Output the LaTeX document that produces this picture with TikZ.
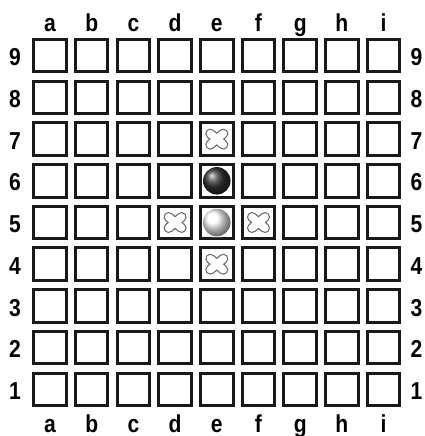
\documentclass[tikz,border=0pt]{standalone}
\usepackage{fontspec}
\setmainfont{Liberation Sans}
\newfontfamily\lblfont{Liberation Sans}[UprightFont=*-Bold]
\usetikzlibrary{calc}
\begin{document}
\begin{tikzpicture}[x=1pt,y=-1pt,
  cell/.style={draw=black!90,line width=3pt,fill=white,minimum size=32.5pt,inner sep=0pt},
  lbl/.style={font=\lblfont\fontsize{24.5}{25}\selectfont,inner sep=0pt},
  blackstone/.style={ball color=black!80,circle,minimum size=27.5pt,inner sep=0pt},
  whitestone/.style={ball color=white,circle,minimum size=27.5pt,inner sep=0pt}]
\useasboundingbox (0,0) rectangle (424,436);
\foreach \c [count=\i from 0] in {a,b,c,d,e,f,g,h,i} {
  \foreach \r in {1,...,9} {
    \node[cell] (\c\r) at ({50+41.7*\i},{55.7+41.7*(9-\r)}) {};
  }
  \node[lbl,anchor=base] (top\c) at ({50+41.7*\i},31.5) {\scalebox{0.86}[1]{\c}};
  \node[lbl,anchor=base] (bot\c) at ({50+41.7*\i},432) {\scalebox{0.86}[1]{\c}};
}
\foreach \r in {1,...,9} {
  \node[lbl,anchor=base] (left\r) at (15,{65.8+41.7*(9-\r)}) {\scalebox{0.86}[1]{\r}};
  \node[lbl,anchor=base] (right\r) at (416.5,{65.8+41.7*(9-\r)}) {\scalebox{0.86}[1]{\r}};
}
% shadow under white stone
\fill[black!10,opacity=0.6] ($(e5)+(0,12)$) ellipse (11 and 3);
\node[blackstone] (bs) at (e6) {};
\node[whitestone] (ws) at (e5) {};
\foreach \s in {e7,d5,f5,e4} {
  \draw[black!60,line width=10pt,line cap=round] ($(\s)+(-6.5,-5.5)$) -- ($(\s)+(6.5,5.5)$) ($(\s)+(-6.5,5.5)$) -- ($(\s)+(6.5,-5.5)$);
  \draw[white,line width=7.6pt,line cap=round] ($(\s)+(-6.5,-5.5)$) -- ($(\s)+(6.5,5.5)$) ($(\s)+(-6.5,5.5)$) -- ($(\s)+(6.5,-5.5)$);
}
\end{tikzpicture}
\end{document}
